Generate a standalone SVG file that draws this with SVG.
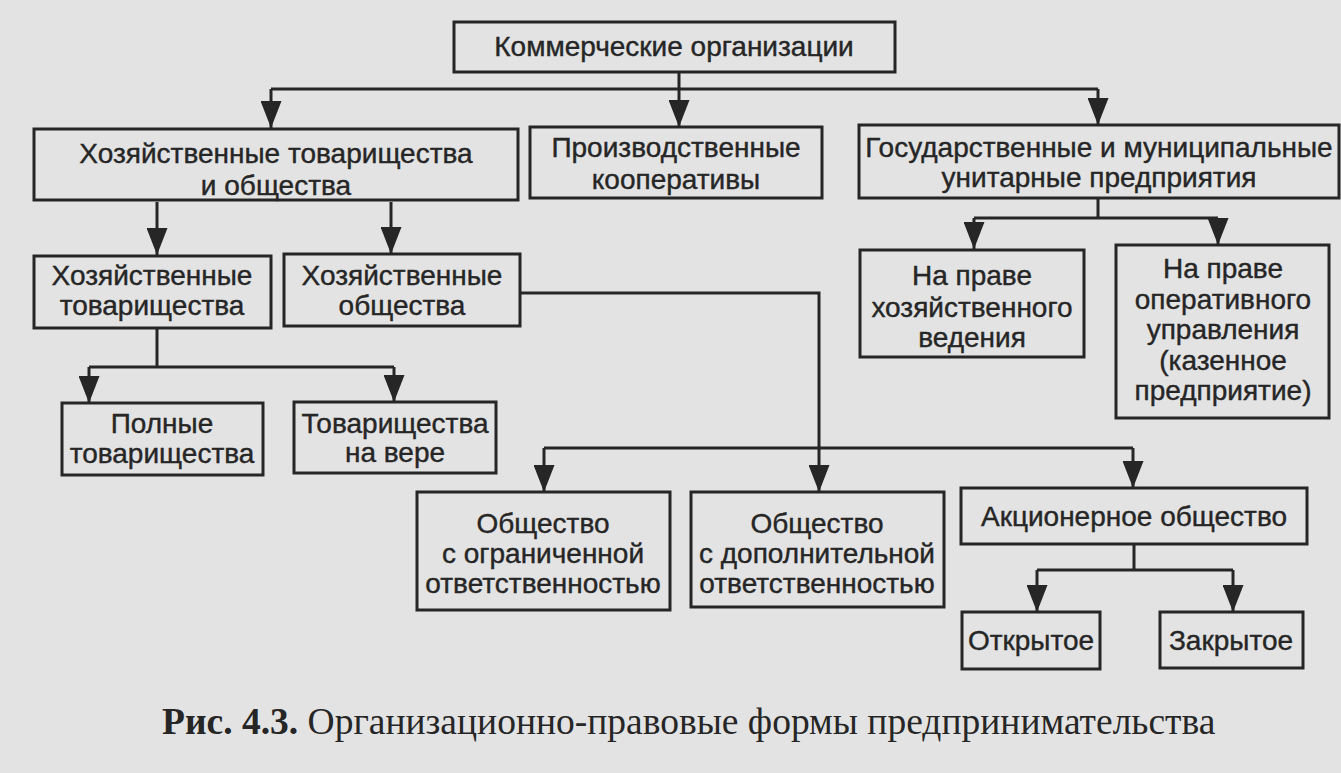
<svg xmlns="http://www.w3.org/2000/svg" width="1341" height="773" viewBox="0 0 1341 773">
<defs>
<marker id="arr" markerUnits="userSpaceOnUse" markerWidth="27" markerHeight="21" viewBox="0 0 27 21" refX="27" refY="10.5" orient="auto">
<path d="M0,0 L27,10.5 L0,21 z" fill="#262626"/>
</marker>
<style>
.box{fill:none;stroke:#262626;stroke-width:3}
.t{font-family:"Liberation Sans Narrow","Arial Narrow","Liberation Sans",sans-serif;font-size:28px;fill:#262626;stroke:#262626;stroke-width:0.4;text-anchor:middle}
.c{fill:none;stroke:#262626;stroke-width:3}
.a{fill:none;stroke:#262626;stroke-width:3;marker-end:url(#arr)}
.cap{font-family:"Liberation Serif","Times New Roman",serif;font-size:37.5px;fill:#262626}
</style>
</defs>
<rect width="1341" height="773" fill="#e3e3e3"/>
<g id="connectors">
<path class="c" d="M679,72 V89 M271,89 H1098"/>
<path class="a" d="M271,89 V128"/>
<path class="a" d="M679,89 V127"/>
<path class="a" d="M1098,89 V125"/>
<path class="a" d="M157,202 V255"/>
<path class="a" d="M391,202 V254"/>
<path class="c" d="M1098,198 V218 M974,218 H1218"/>
<path class="a" d="M974,218 V249"/>
<path class="a" d="M1218,218 V245"/>
<path class="c" d="M157,328 V367 M89,367 H394"/>
<path class="a" d="M89,367 V403"/>
<path class="a" d="M394,367 V402"/>
<path class="a" d="M520,293 H819 V492"/>
<path class="c" d="M544,448 H1133"/>
<path class="a" d="M544,448 V492"/>
<path class="a" d="M1133,448 V488"/>
<path class="c" d="M1134,544 V570 M1037,570 H1233"/>
<path class="a" d="M1037,570 V612"/>
<path class="a" d="M1233,570 V612"/>
</g>
<g id="n-commercial">
<rect class="box" x="454" y="22" width="441" height="50"/>
<text class="t" x="674" y="56">Коммерческие организации</text>
</g>
<g id="n-partnerships-companies">
<rect class="box" x="34" y="129" width="484" height="71"/>
<text class="t" x="276" y="163">Хозяйственные товарищества</text>
<text class="t" x="276" y="195">и общества</text>
</g>
<g id="n-cooperatives">
<rect class="box" x="530" y="127" width="292" height="71"/>
<text class="t" x="676" y="157">Производственные</text>
<text class="t" x="676" y="189">кооперативы</text>
</g>
<g id="n-unitary">
<rect class="box" x="859" y="125" width="480" height="73"/>
<text class="t" x="1099" y="157">Государственные и муниципальные</text>
<text class="t" x="1099" y="187">унитарные предприятия</text>
</g>
<g id="n-partnerships">
<rect class="box" x="34" y="256" width="237" height="72"/>
<text class="t" x="152" y="285">Хозяйственные</text>
<text class="t" x="152" y="315">товарищества</text>
</g>
<g id="n-companies">
<rect class="box" x="284" y="254" width="236" height="72"/>
<text class="t" x="402" y="285">Хозяйственные</text>
<text class="t" x="402" y="315">общества</text>
</g>
<g id="n-economic">
<rect class="box" x="860" y="250" width="224" height="107"/>
<text class="t" x="972" y="285">На праве</text>
<text class="t" x="972" y="317">хозяйственного</text>
<text class="t" x="972" y="347">ведения</text>
</g>
<g id="n-operative">
<rect class="box" x="1116" y="245" width="213" height="173"/>
<text class="t" x="1223" y="278">На праве</text>
<text class="t" x="1223" y="309">оперативного</text>
<text class="t" x="1223" y="339">управления</text>
<text class="t" x="1223" y="370">(казенное</text>
<text class="t" x="1223" y="400">предприятие)</text>
</g>
<g id="n-full">
<rect class="box" x="62" y="403" width="201" height="72"/>
<text class="t" x="162" y="433">Полные</text>
<text class="t" x="162" y="463">товарищества</text>
</g>
<g id="n-limited-partnership">
<rect class="box" x="294" y="402" width="202" height="71"/>
<text class="t" x="395" y="433">Товарищества</text>
<text class="t" x="395" y="462">на вере</text>
</g>
<g id="n-llc">
<rect class="box" x="417" y="492" width="253" height="118"/>
<text class="t" x="543" y="533">Общество</text>
<text class="t" x="543" y="563">с ограниченной</text>
<text class="t" x="543" y="593">ответственностью</text>
</g>
<g id="n-alc">
<rect class="box" x="691" y="492" width="253" height="115"/>
<text class="t" x="817" y="533">Общество</text>
<text class="t" x="817" y="563">с дополнительной</text>
<text class="t" x="817" y="593">ответственностью</text>
</g>
<g id="n-jsc">
<rect class="box" x="961" y="488" width="346" height="56"/>
<text class="t" x="1134" y="526">Акционерное общество</text>
</g>
<g id="n-open">
<rect class="box" x="962" y="612" width="138" height="57"/>
<text class="t" x="1031" y="650">Открытое</text>
</g>
<g id="n-closed">
<rect class="box" x="1160" y="612" width="143" height="56"/>
<text class="t" x="1231" y="650">Закрытое</text>
</g>
<text class="cap" x="162" y="734"><tspan font-weight="bold">Рис. 4.3.</tspan> Организационно-правовые формы предпринимательства</text>
</svg>
